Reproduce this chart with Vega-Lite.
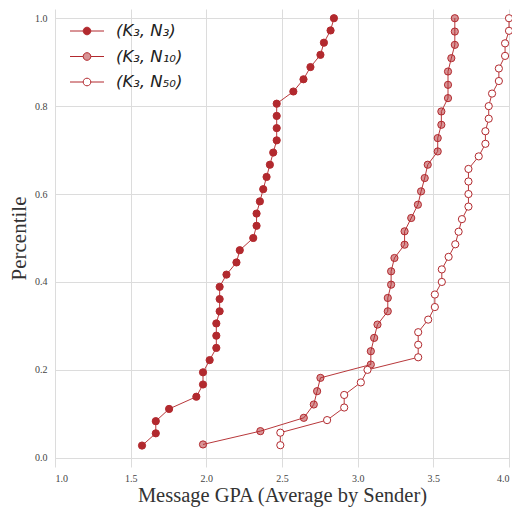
{
  "$schema": "https://vega.github.io/schema/vega-lite/v6.json",
  "width": 454,
  "height": 458,
  "autosize": {"type": "none"},
  "padding": {"left": 55, "top": 9, "right": 3, "bottom": 40},
  "background": "white",
  "config": {
    "view": {"stroke": null},
    "axis": {
      "domain": false,
      "ticks": false,
      "gridColor": "#dcdcdc",
      "gridWidth": 1,
      "labelFont": "Liberation Serif",
      "labelFontSize": 10,
      "labelColor": "#444444",
      "titleFont": "Liberation Serif",
      "titleFontSize": 21,
      "titleFontWeight": "normal",
      "titleColor": "#333333"
    },
    "legend": {
      "orient": "none",
      "legendX": 23,
      "legendY": 13,
      "padding": 0,
      "symbolType": "M-2,0L-0.45,0M0.45,0L2,0M-0.45,0A0.45,0.45 0 1 0 0.45,0A0.45,0.45 0 1 0 -0.45,0Z",
      "symbolSize": 289,
      "symbolStrokeColor": "#b2292e",
      "symbolStrokeWidth": 1,
      "symbolOpacity": 1,
      "labelFont": "DejaVu Sans",
      "labelFontStyle": "italic",
      "labelFontSize": 16.5,
      "labelColor": "#222222",
      "labelOffset": 20,
      "rowPadding": 7.5
    }
  },
  "data": {
    "values": [
      {"series": "(K₃, N₃)", "gpa": 1.575, "pct": 0.0278},
      {"series": "(K₃, N₃)", "gpa": 1.666, "pct": 0.0556},
      {"series": "(K₃, N₃)", "gpa": 1.666, "pct": 0.0833},
      {"series": "(K₃, N₃)", "gpa": 1.754, "pct": 0.1111},
      {"series": "(K₃, N₃)", "gpa": 1.934, "pct": 0.1389},
      {"series": "(K₃, N₃)", "gpa": 1.978, "pct": 0.1667},
      {"series": "(K₃, N₃)", "gpa": 1.978, "pct": 0.1944},
      {"series": "(K₃, N₃)", "gpa": 2.022, "pct": 0.2222},
      {"series": "(K₃, N₃)", "gpa": 2.066, "pct": 0.25},
      {"series": "(K₃, N₃)", "gpa": 2.066, "pct": 0.2778},
      {"series": "(K₃, N₃)", "gpa": 2.066, "pct": 0.3056},
      {"series": "(K₃, N₃)", "gpa": 2.088, "pct": 0.3333},
      {"series": "(K₃, N₃)", "gpa": 2.088, "pct": 0.3611},
      {"series": "(K₃, N₃)", "gpa": 2.088, "pct": 0.3889},
      {"series": "(K₃, N₃)", "gpa": 2.133, "pct": 0.4167},
      {"series": "(K₃, N₃)", "gpa": 2.199, "pct": 0.4444},
      {"series": "(K₃, N₃)", "gpa": 2.221, "pct": 0.4722},
      {"series": "(K₃, N₃)", "gpa": 2.31, "pct": 0.5},
      {"series": "(K₃, N₃)", "gpa": 2.332, "pct": 0.5278},
      {"series": "(K₃, N₃)", "gpa": 2.332, "pct": 0.5556},
      {"series": "(K₃, N₃)", "gpa": 2.354, "pct": 0.5833},
      {"series": "(K₃, N₃)", "gpa": 2.376, "pct": 0.6111},
      {"series": "(K₃, N₃)", "gpa": 2.398, "pct": 0.6389},
      {"series": "(K₃, N₃)", "gpa": 2.42, "pct": 0.6667},
      {"series": "(K₃, N₃)", "gpa": 2.442, "pct": 0.6944},
      {"series": "(K₃, N₃)", "gpa": 2.465, "pct": 0.7222},
      {"series": "(K₃, N₃)", "gpa": 2.465, "pct": 0.75},
      {"series": "(K₃, N₃)", "gpa": 2.465, "pct": 0.7778},
      {"series": "(K₃, N₃)", "gpa": 2.465, "pct": 0.8056},
      {"series": "(K₃, N₃)", "gpa": 2.575, "pct": 0.8333},
      {"series": "(K₃, N₃)", "gpa": 2.642, "pct": 0.8611},
      {"series": "(K₃, N₃)", "gpa": 2.688, "pct": 0.8889},
      {"series": "(K₃, N₃)", "gpa": 2.754, "pct": 0.9167},
      {"series": "(K₃, N₃)", "gpa": 2.777, "pct": 0.9444},
      {"series": "(K₃, N₃)", "gpa": 2.821, "pct": 0.9722},
      {"series": "(K₃, N₃)", "gpa": 2.843, "pct": 1.0},
      {"series": "(K₃, N₁₀)", "gpa": 1.978, "pct": 0.0303},
      {"series": "(K₃, N₁₀)", "gpa": 2.357, "pct": 0.0606},
      {"series": "(K₃, N₁₀)", "gpa": 2.644, "pct": 0.0909},
      {"series": "(K₃, N₁₀)", "gpa": 2.71, "pct": 0.1212},
      {"series": "(K₃, N₁₀)", "gpa": 2.732, "pct": 0.1515},
      {"series": "(K₃, N₁₀)", "gpa": 2.754, "pct": 0.1818},
      {"series": "(K₃, N₁₀)", "gpa": 3.087, "pct": 0.2121},
      {"series": "(K₃, N₁₀)", "gpa": 3.087, "pct": 0.2424},
      {"series": "(K₃, N₁₀)", "gpa": 3.109, "pct": 0.2727},
      {"series": "(K₃, N₁₀)", "gpa": 3.131, "pct": 0.303},
      {"series": "(K₃, N₁₀)", "gpa": 3.199, "pct": 0.3333},
      {"series": "(K₃, N₁₀)", "gpa": 3.199, "pct": 0.3636},
      {"series": "(K₃, N₁₀)", "gpa": 3.221, "pct": 0.3939},
      {"series": "(K₃, N₁₀)", "gpa": 3.221, "pct": 0.4242},
      {"series": "(K₃, N₁₀)", "gpa": 3.243, "pct": 0.4545},
      {"series": "(K₃, N₁₀)", "gpa": 3.31, "pct": 0.4848},
      {"series": "(K₃, N₁₀)", "gpa": 3.31, "pct": 0.5152},
      {"series": "(K₃, N₁₀)", "gpa": 3.354, "pct": 0.5455},
      {"series": "(K₃, N₁₀)", "gpa": 3.398, "pct": 0.5758},
      {"series": "(K₃, N₁₀)", "gpa": 3.419, "pct": 0.6061},
      {"series": "(K₃, N₁₀)", "gpa": 3.443, "pct": 0.6364},
      {"series": "(K₃, N₁₀)", "gpa": 3.463, "pct": 0.6667},
      {"series": "(K₃, N₁₀)", "gpa": 3.529, "pct": 0.697},
      {"series": "(K₃, N₁₀)", "gpa": 3.529, "pct": 0.7273},
      {"series": "(K₃, N₁₀)", "gpa": 3.553, "pct": 0.7576},
      {"series": "(K₃, N₁₀)", "gpa": 3.553, "pct": 0.7879},
      {"series": "(K₃, N₁₀)", "gpa": 3.597, "pct": 0.8182},
      {"series": "(K₃, N₁₀)", "gpa": 3.597, "pct": 0.8485},
      {"series": "(K₃, N₁₀)", "gpa": 3.597, "pct": 0.8788},
      {"series": "(K₃, N₁₀)", "gpa": 3.619, "pct": 0.9091},
      {"series": "(K₃, N₁₀)", "gpa": 3.642, "pct": 0.9394},
      {"series": "(K₃, N₁₀)", "gpa": 3.642, "pct": 0.9697},
      {"series": "(K₃, N₁₀)", "gpa": 3.642, "pct": 1.0},
      {"series": "(K₃, N₅₀)", "gpa": 2.489, "pct": 0.0286},
      {"series": "(K₃, N₅₀)", "gpa": 2.489, "pct": 0.0571},
      {"series": "(K₃, N₅₀)", "gpa": 2.798, "pct": 0.0857},
      {"series": "(K₃, N₅₀)", "gpa": 2.911, "pct": 0.1143},
      {"series": "(K₃, N₅₀)", "gpa": 2.911, "pct": 0.1429},
      {"series": "(K₃, N₅₀)", "gpa": 3.021, "pct": 0.1714},
      {"series": "(K₃, N₅₀)", "gpa": 3.065, "pct": 0.2},
      {"series": "(K₃, N₅₀)", "gpa": 3.4, "pct": 0.2286},
      {"series": "(K₃, N₅₀)", "gpa": 3.4, "pct": 0.2571},
      {"series": "(K₃, N₅₀)", "gpa": 3.4, "pct": 0.2857},
      {"series": "(K₃, N₅₀)", "gpa": 3.466, "pct": 0.3143},
      {"series": "(K₃, N₅₀)", "gpa": 3.51, "pct": 0.3429},
      {"series": "(K₃, N₅₀)", "gpa": 3.51, "pct": 0.3714},
      {"series": "(K₃, N₅₀)", "gpa": 3.556, "pct": 0.4},
      {"series": "(K₃, N₅₀)", "gpa": 3.556, "pct": 0.4286},
      {"series": "(K₃, N₅₀)", "gpa": 3.601, "pct": 0.4571},
      {"series": "(K₃, N₅₀)", "gpa": 3.645, "pct": 0.4857},
      {"series": "(K₃, N₅₀)", "gpa": 3.667, "pct": 0.5143},
      {"series": "(K₃, N₅₀)", "gpa": 3.689, "pct": 0.5429},
      {"series": "(K₃, N₅₀)", "gpa": 3.732, "pct": 0.5714},
      {"series": "(K₃, N₅₀)", "gpa": 3.732, "pct": 0.6},
      {"series": "(K₃, N₅₀)", "gpa": 3.732, "pct": 0.6286},
      {"series": "(K₃, N₅₀)", "gpa": 3.732, "pct": 0.6571},
      {"series": "(K₃, N₅₀)", "gpa": 3.8, "pct": 0.6857},
      {"series": "(K₃, N₅₀)", "gpa": 3.844, "pct": 0.7143},
      {"series": "(K₃, N₅₀)", "gpa": 3.844, "pct": 0.7429},
      {"series": "(K₃, N₅₀)", "gpa": 3.866, "pct": 0.7714},
      {"series": "(K₃, N₅₀)", "gpa": 3.866, "pct": 0.8},
      {"series": "(K₃, N₅₀)", "gpa": 3.888, "pct": 0.8286},
      {"series": "(K₃, N₅₀)", "gpa": 3.933, "pct": 0.8571},
      {"series": "(K₃, N₅₀)", "gpa": 3.933, "pct": 0.8857},
      {"series": "(K₃, N₅₀)", "gpa": 3.974, "pct": 0.9143},
      {"series": "(K₃, N₅₀)", "gpa": 3.974, "pct": 0.9429},
      {"series": "(K₃, N₅₀)", "gpa": 4.0, "pct": 0.9714},
      {"series": "(K₃, N₅₀)", "gpa": 4.0, "pct": 1.0}
    ]
  },
  "encoding": {
    "x": {
      "field": "gpa",
      "type": "quantitative",
      "scale": {"domain": [1, 4], "nice": false, "zero": false},
      "axis": {"values": [1, 1.5, 2, 2.5, 3, 3.5, 4], "format": ".1f", "title": "Message GPA (Average by Sender)", "labelFont": "Liberation Serif", "labelPadding": 6, "titlePadding": 2, "titleFontSize": 20.5}
    },
    "y": {
      "field": "pct",
      "type": "quantitative",
      "scale": {"domain": [-0.021, 1.021], "nice": false, "zero": false},
      "axis": {"values": [0, 0.2, 0.4, 0.6, 0.8, 1], "format": ".1f", "title": "Percentile", "labelFont": "Liberation Serif", "labelPadding": 8, "titlePadding": 5}
    }
  },
  "layer": [
    {
      "mark": {"type": "line", "stroke": "#b8383b", "strokeWidth": 1, "clip": false},
      "encoding": {
        "detail": {"field": "series", "type": "nominal"},
        "order": {"field": "pct", "type": "quantitative"}
      }
    },
    {
      "mark": {"type": "point", "shape": "circle", "filled": true, "size": 52, "stroke": "#b2292e", "strokeWidth": 1, "opacity": 1, "clip": false},
      "encoding": {
        "fill": {
          "field": "series",
          "type": "nominal",
          "scale": {"domain": ["(K₃, N₃)", "(K₃, N₁₀)", "(K₃, N₅₀)"], "range": ["#b2292e", "rgba(178,41,46,0.5)", "#ffffff"]},
          "legend": {"title": null}
        }
      }
    }
  ]
}
